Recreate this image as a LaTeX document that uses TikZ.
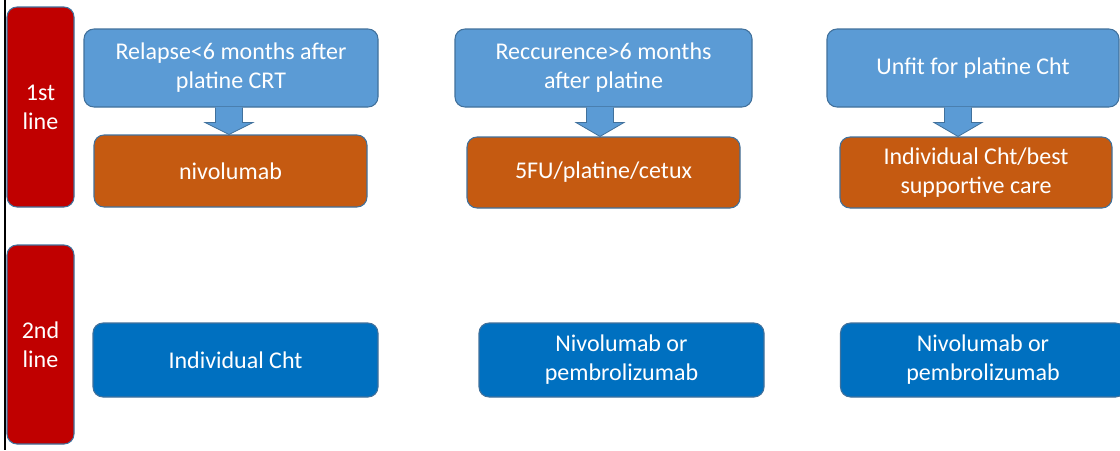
\documentclass[tikz,border=0pt]{standalone}
\usepackage{fontspec}
\setmainfont{Carlito}
\usetikzlibrary{calc}
\definecolor{lblue}{HTML}{5B9BD5}
\definecolor{dblue}{HTML}{0070C0}
\definecolor{orng}{HTML}{C55A11}
\definecolor{dred}{HTML}{C00000}
\definecolor{edge}{HTML}{41719C}
\begin{document}
\begin{tikzpicture}[x=0.75pt,y=-0.75pt,
  box/.style={draw=edge,line width=0.8pt,rounded corners=7.5pt,text=white,align=center,
    font=\fontsize{18}{21.75}\selectfont,inner sep=0pt},
  cond/.style={box,fill=lblue},
  treat/.style={box,fill=orng},
  second/.style={box,fill=dblue},
  linebox/.style={box,fill=dred},
  barrow/.style={fill=lblue,draw=edge,line width=0.6pt}]
\useasboundingbox (0,0) rectangle (1120,450);
\fill[white] (0,0) rectangle (1120,450);
\draw[black,line width=1.5pt] (4.5,0) -- (4.5,450);
% line labels
\node[linebox,minimum width=50.25pt,minimum height=150pt] (l1) at (40.5,107) {1st\\line};
\node[linebox,minimum width=50.25pt,minimum height=149.25pt] (l2) at (40.5,344.5) {2nd\\line};
% first line conditions
\node[cond,minimum width=220.5pt,minimum height=58.5pt] (c1) at (231,68) {Relapse<6 months after\\platine CRT};
\node[cond,minimum width=222.75pt,minimum height=58.5pt] (c2) at (603.5,68) {Reccurence>6 months\\after platine};
\node[cond,minimum width=219pt,minimum height=58.5pt] (c3) at (973,68) {Unfit for platine Cht};
% first line treatments
\node[treat,minimum width=204.75pt,minimum height=54pt] (t1) at (230.5,171) {nivolumab};
\node[treat,minimum width=204.75pt,minimum height=53.25pt] (t2) at (603.5,172.5) {5FU/platine/cetux};
\node[treat,minimum width=204pt,minimum height=53.25pt] (t3) at (976,172.5) {Individual Cht/best\\supportive care};
% second line
\node[second,minimum width=213.75pt,minimum height=55.5pt] (s1) at (235.5,360) {Individual Cht};
\node[second,minimum width=213.75pt,minimum height=55.5pt] (s2) at (621.5,360) {Nivolumab or\\pembrolizumab};
\node[second,minimum width=213.75pt,minimum height=55.5pt] (s3) at (983,360) {Nivolumab or\\pembrolizumab};
% block arrows
\foreach \c/\t/\dx in {c1/t1/-2,c2/t2/-3.5,c3/t3/-15}{
  \coordinate (top) at ($(\c.south)+(\dx,0)$);
  \coordinate (tip) at (top |- \t.north);
  \filldraw[barrow] ($(top)+(-13.5,0)$) -- ($(top)+(-13.5,15)$) -- ($(top)+(-24,15)$) -- (tip)
     -- ($(top)+(24,15)$) -- ($(top)+(13.5,15)$) -- ($(top)+(13.5,0)$);
  \fill[lblue] ($(top)+(-13,-0.5)$) rectangle ($(top)+(13,1)$);
}
\end{tikzpicture}
\end{document}
